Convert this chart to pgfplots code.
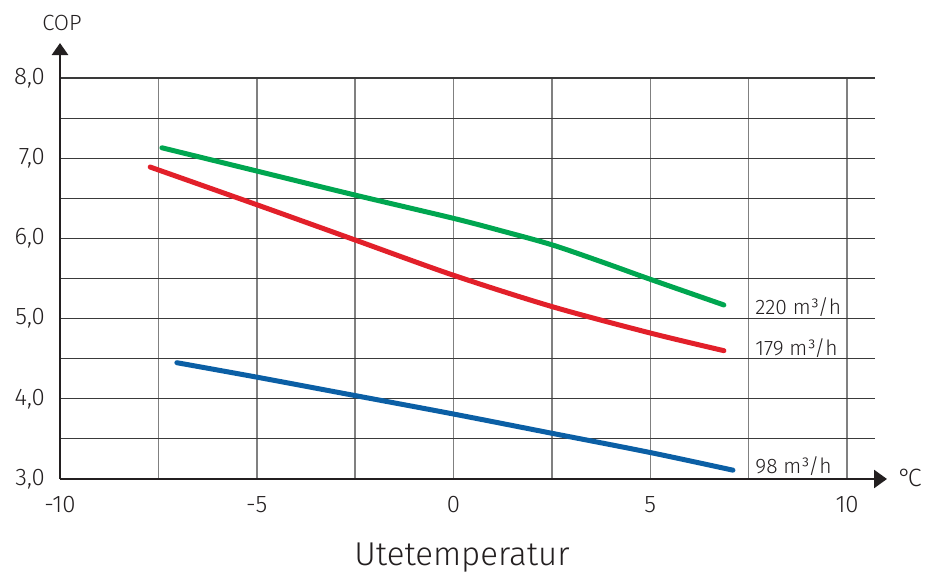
\documentclass[border=0pt]{standalone}
\usepackage{fontspec}
\setmainfont{Fira Sans Light}
\usepackage{pgfplots}
\pgfplotsset{compat=1.18}
\usetikzlibrary{arrows.meta}
\definecolor{cgreen}{HTML}{00A650}
\definecolor{cred}{HTML}{E2202A}
\definecolor{cblue}{HTML}{0B5FA5}
\definecolor{vgrid}{HTML}{808080}
\definecolor{hgrid}{HTML}{3A3A3A}
\definecolor{axc}{HTML}{231F20}
\begin{document}
\begin{tikzpicture}
\useasboundingbox (0,0) rectangle (462.5pt,288pt);
\begin{axis}[
  at={(30pt,48.5pt)}, anchor=south west,
  scale only axis, width=407.5pt, height=200.5pt,
  xmin=-10, xmax=10.71, ymin=3, ymax=8,
  axis lines=left,
  clip=false,
  xtick={-10,-5,0,5,10}, minor xtick={-7.5,-2.5,2.5,7.5},
  ytick={3,4,5,6,7,8}, minor ytick={3.5,4.5,5.5,6.5,7.5},
  grid=both,
  major x grid style={vgrid, line width=0.75pt},
  minor x grid style={vgrid, line width=0.75pt},
  major y grid style={hgrid, line width=0.6pt},
  minor y grid style={hgrid, line width=0.6pt},
  major tick length=0pt, minor tick length=0pt,
  x axis line style={axc, line width=1.3pt, -{Triangle[length=6.5pt,width=9pt]}, shorten >=-6pt},
  y axis line style={axc, line width=1.3pt, -{Triangle[length=6pt,width=8pt]}, shorten >=-17.5pt},
  /pgf/number format/assume math mode=true,
  xticklabel style={font=\fontsize{12}{14}\selectfont, text=axc, yshift=-5pt},
  yticklabel style={font=\fontsize{12}{14}\selectfont, text=axc, xshift=-4pt,
    /pgf/number format/.cd, fixed, fixed zerofill, precision=1, use comma},
  every axis plot/.append style={line width=2.5pt, line cap=round, smooth, no marks},
]
\addplot[cgreen] coordinates {(-7.41,7.13) (-5,6.84) (-2.5,6.54) (0,6.25) (1.25,6.09) (2.5,5.92) (3.75,5.71) (5,5.49) (6.87,5.17)};
\addplot[cred] coordinates {(-7.71,6.89) (-5,6.42) (-2.5,5.98) (0,5.54) (2.5,5.15) (5,4.82) (6.87,4.60)};
\addplot[cblue] coordinates {(-7.03,4.45) (-5,4.27) (-2.5,4.04) (0,3.81) (2.5,3.57) (5,3.33) (7.1,3.11)};
\node[anchor=west, font=\fontsize{10.5}{12}\selectfont, text=axc, inner sep=0pt] at (axis cs:7.66,5.14) {220 m³/h};
\node[anchor=west, font=\fontsize{10.5}{12}\selectfont, text=axc, inner sep=0pt] at (axis cs:7.66,4.63) {179 m³/h};
\node[anchor=west, font=\fontsize{10.5}{12}\selectfont, text=axc, inner sep=0pt] at (axis cs:7.66,3.16) {98 m³/h};
\end{axis}
\node[font=\fontsize{11}{13}\selectfont, text=axc] at (31pt,276.5pt) {COP};
\node[font=\fontsize{12.5}{14}\selectfont, text=axc] at (455pt,49pt) {°\kern-1.8pt C};
\node[font=\fontsize{16.5}{19}\selectfont, text=axc] at (231pt,9pt) {Utetemperatur};
\end{tikzpicture}
\end{document}
